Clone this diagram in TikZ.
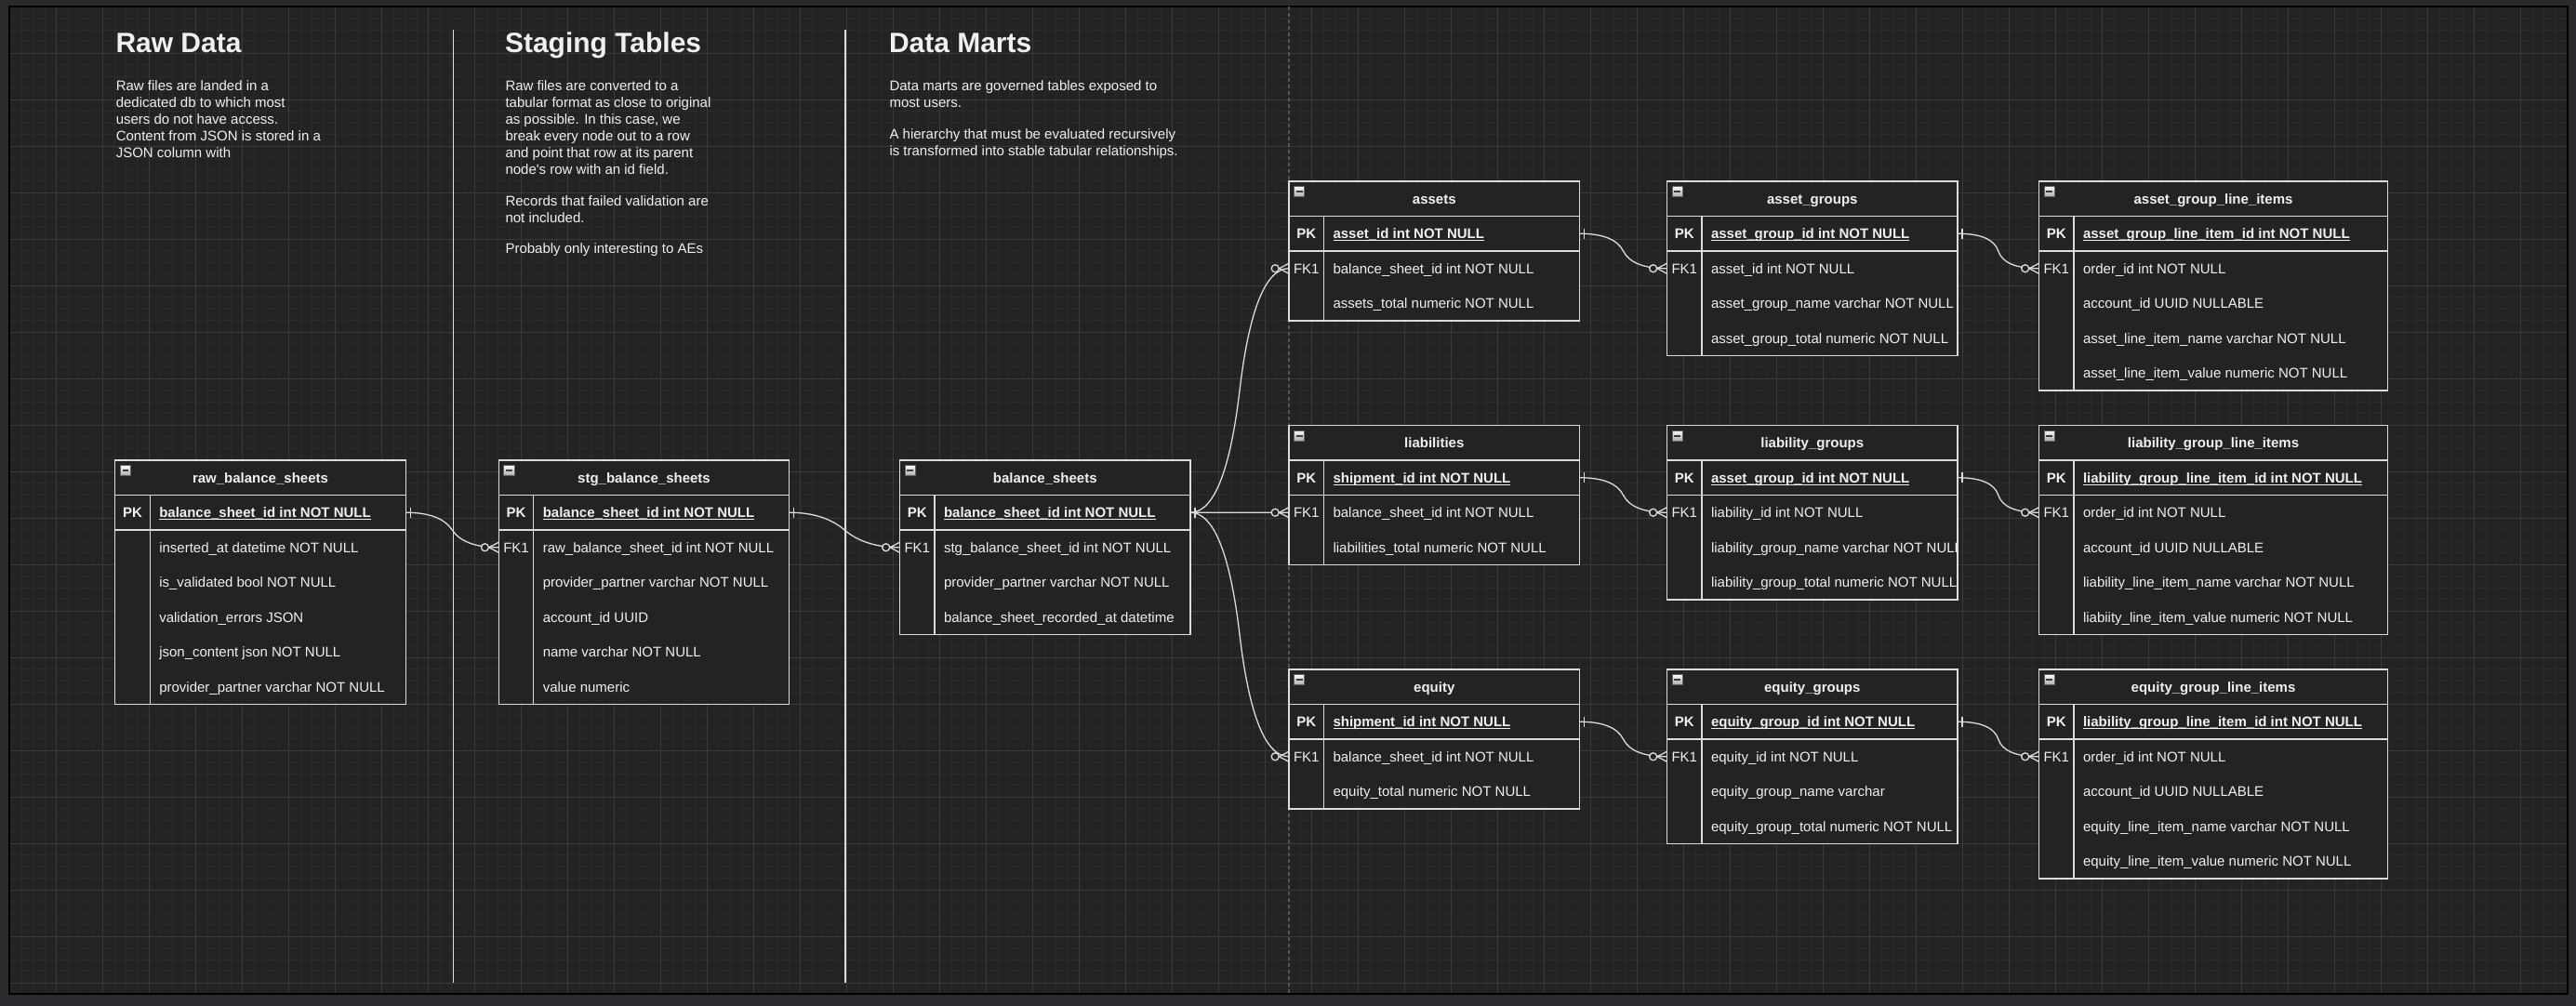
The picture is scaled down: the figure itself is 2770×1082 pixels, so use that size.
\documentclass[tikz,border=0pt]{standalone}
\usepackage{fontspec}
\setmainfont{Liberation Sans}
\usetikzlibrary{calc}
\definecolor{outer}{HTML}{2A2B2E}
\definecolor{bg}{HTML}{232323}
\definecolor{gminor}{HTML}{2B2B2B}
\definecolor{gmajor}{HTML}{3A3A3A}
\definecolor{lc}{HTML}{DCDCDC}
\definecolor{tc}{HTML}{F0F0F0}
\definecolor{pb}{HTML}{555555}
\definecolor{icfill}{HTML}{C8C8C8}
\definecolor{icdark}{HTML}{3C3C3C}

\newcommand{\tabfont}{\fontsize{7.5pt}{9pt}\selectfont}
\newcommand{\bodyfont}{\fontsize{7.5pt}{9pt}\selectfont}
\newcommand{\titlefont}{\fontsize{15pt}{18pt}\selectfont\bfseries}

\tikzset{
 cell/.style={draw=lc, fill=bg, line width=0.65pt, minimum height=18.75pt, inner sep=0pt, outer sep=0pt, anchor=north west},
 ttext/.style={text=tc, font=\tabfont, inner sep=0pt, outer sep=0pt},
 tline/.style={draw=lc, line width=0.65pt},
 conn/.style={draw=lc, line width=0.65pt},
 para/.style={text=tc, font=\bodyfont, inner sep=0pt, outer sep=0pt, anchor=base west},
 ttl/.style={text=tc, font=\titlefont, inner sep=0pt, outer sep=0pt, anchor=base west},
 icon/.style={draw=icdark!80, top color=white!90!icfill, bottom color=icfill!85!black, line width=0.4pt, minimum size=5.6pt, inner sep=0pt, outer sep=0pt, anchor=north west},
 minusbar/.style={draw=icdark, line width=0.9pt},
 sepline/.style={draw=lc, line width=0.75pt},
}

% paragraph: name, x, first baseline y, lines
\newcommand{\plines}[4]{%
 \foreach \ln [count=\i] in {#4} {%
  \node[para] (#1-\i) at (#2,#3+18*\i-18) {\ln};
 }
}

% name, x, y, width, title, pk field, fk label, rows
\newcommand{\ertable}[8]{%
 \node[cell, minimum width=#4*0.5pt] (#1-h) at (#2,#3) {};
 \node[cell, minimum width=#4*0.5pt] (#1-pk) at (#2,#3+37.5) {};
 \foreach \f [count=\i] in {#8} {%
   \node[cell, draw=none, minimum width=#4*0.5pt] (#1-r\i) at (#2,#3+37.5+37.5*\i) {};
   \xdef\ernrows{\i}%
 }
 \draw[tline] (#1-pk.south west) rectangle (#1-r\ernrows.south east);
 \draw[tline] ($(#1-pk.north west)+(37.5,0)$) -- ($(#1-r\ernrows.south west)+(37.5,0)$);
 \node[icon] (#1-ic) at (#2+5.6,#3+5.6) {};
 \draw[minusbar] ($(#1-ic.west)+(2.2,0)$) -- ($(#1-ic.east)+(-2.2,0)$);
 \node[ttext, font=\tabfont\bfseries, anchor=base] (#1-title) at (#2+#4/2,#3+24.2) {#5};
 \node[ttext, font=\tabfont\bfseries, anchor=base] (#1-pkl) at (#2+18.75,#3+61.7) {PK};
 \begin{scope}
  \clip (#2,#3) rectangle ++(#4,600);
  \node[ttext, font=\tabfont\bfseries, anchor=base west] (#1-pkt) at (#2+47.5,#3+61.7) {#6};
  \draw[tc, line width=0.5pt] ($(#1-pkt.base west)+(0,2.2)$) -- ($(#1-pkt.base east)+(0,2.2)$);
  \foreach \f [count=\i] in {#8} {%
   \node[ttext, anchor=base west] (#1-t\i) at (#2+47.5,#3+37.5+37.5*\i+24.2) {\f};
  }
 \end{scope}
 \def\erfk{#7}\ifx\erfk\empty\else
  \node[ttext, anchor=base] (#1-fk) at (#2+18.75,#3+99.2) {#7};
 \fi
}

% one-to-zero-or-many link: source row node, target row node
\newcommand{\erlink}[2]{%
 \coordinate (s) at (#1.east);
 \coordinate (t) at (#2.west);
 \coordinate (q1) at ($(s)+(37.5,0)$);
 \coordinate (q2) at ($(t)+(-37.5,0)$);
 \coordinate (m) at ($(q1)!0.5!(q2)$);
 \draw[conn] (s) .. controls ($(s)!2/3!(q1)$) and ($(m)!2/3!(q1)$) .. (m)
   .. controls ($(m)!2/3!(q2)$) and ($(t)!2/3!(q2)$) .. (t);
 \draw[conn] ($(s)+(5,-5.5)$) -- ($(s)+(5,5.5)$);
 \draw[conn] ($(t)+(-10.5,0)$) -- ($(t)+(0,-5.5)$) ($(t)+(-10.5,0)$) -- ($(t)+(0,5.5)$);
 \draw[conn, fill=bg] ($(t)+(-14.8,0)$) circle[radius=2pt];
}

\begin{document}
\begin{tikzpicture}[x=0.5pt,y=-0.5pt]
\useasboundingbox (0,0) rectangle (2770,1082);
\fill[outer] (0,0) rectangle (2770,1082);
\fill[bg] (10,7) rectangle (2761,1069);
\begin{scope}
 \clip (10,7) rectangle (2761,1069);
 \foreach \gx in {10.5,23,...,2761} \draw[gminor, line width=0.5pt] (\gx,7) -- (\gx,1069);
 \foreach \gy in {7.3,19.8,...,1069} \draw[gminor, line width=0.5pt] (10,\gy) -- (2761,\gy);
 \foreach \gx in {10.5,60.5,...,2761} \draw[gmajor, line width=0.5pt] (\gx,7) -- (\gx,1069);
 \foreach \gy in {7.3,57.3,...,1069} \draw[gmajor, line width=0.5pt] (10,\gy) -- (2761,\gy);
\end{scope}
\draw[black, line width=0.6pt] (10,7) rectangle (2761,1069);

% page break
\draw[pb, line width=0.6pt, dash pattern=on 2pt off 1.5pt] (1386,7) -- (1386,1069);

% section separators
\draw[sepline] (487.7,32.3) -- (487.7,1057.3);
\draw[sepline] (909,32.3) -- (909,1057.3);

% titles
\node[ttl] (t-raw) at (124.5,56) {Raw Data};
\node[ttl] (t-stg) at (543,56) {Staging Tables};
\node[ttl] (t-dm) at (956,56) {Data Marts};

% descriptions
\plines{p-raw}{124.8}{97.7}{Raw files are landed in a,dedicated db to which most,users do not have access.,Content from JSON is stored in a,JSON column with}
\plines{p-stg1}{543.5}{97.7}{Raw files are converted to a,tabular format as close to original,{as possible. In this case, we},break every node out to a row,and point that row at its parent,node\textquotesingle s row with an id field.}
\plines{p-stg2}{543.5}{221}{Records that failed validation are,not included.}
\plines{p-stg3}{543.5}{272.3}{Probably only interesting to AEs}
\plines{p-dm1}{956.5}{97.7}{Data marts are governed tables exposed to,most users.}
\plines{p-dm2}{956.5}{149}{A hierarchy that must be evaluated recursively,is transformed into stable tabular relationships.}

% tables
\ertable{raw}{123.75}{495}{312.5}{raw\_balance\_sheets}{balance\_sheet\_id int NOT NULL}{}%
 {inserted\_at datetime NOT NULL,is\_validated bool NOT NULL,validation\_errors JSON,json\_content json NOT NULL,provider\_partner varchar NOT NULL}
\ertable{stg}{536.25}{495}{312.5}{stg\_balance\_sheets}{balance\_sheet\_id int NOT NULL}{FK1}%
 {raw\_balance\_sheet\_id int NOT NULL,provider\_partner varchar NOT NULL,account\_id UUID,name varchar NOT NULL,value numeric}
\ertable{bs}{967.5}{495}{312.5}{balance\_sheets}{balance\_sheet\_id int NOT NULL}{FK1}%
 {stg\_balance\_sheet\_id int NOT NULL,provider\_partner varchar NOT NULL,balance\_sheet\_recorded\_at datetime}

\ertable{as}{1386}{195}{312.5}{assets}{asset\_id int NOT NULL}{FK1}%
 {balance\_sheet\_id int NOT NULL,assets\_total numeric NOT NULL}
\ertable{ag}{1792.5}{195}{312.5}{asset\_groups}{asset\_group\_id int NOT NULL}{FK1}%
 {asset\_id int NOT NULL,asset\_group\_name varchar NOT NULL,asset\_group\_total numeric NOT NULL}
\ertable{agl}{2192.5}{195}{375}{asset\_group\_line\_items}{asset\_group\_line\_item\_id int NOT NULL}{FK1}%
 {order\_id int NOT NULL,account\_id UUID NULLABLE,asset\_line\_item\_name varchar NOT NULL,asset\_line\_item\_value numeric NOT NULL}

\ertable{li}{1386}{457.5}{312.5}{liabilities}{shipment\_id int NOT NULL}{FK1}%
 {balance\_sheet\_id int NOT NULL,liabilities\_total numeric NOT NULL}
\ertable{lg}{1792.5}{457.5}{312.5}{liability\_groups}{asset\_group\_id int NOT NULL}{FK1}%
 {liability\_id int NOT NULL,liability\_group\_name varchar NOT NULL,liability\_group\_total numeric NOT NULL}
\ertable{lgl}{2192.5}{457.5}{375}{liability\_group\_line\_items}{liability\_group\_line\_item\_id int NOT NULL}{FK1}%
 {order\_id int NOT NULL,account\_id UUID NULLABLE,liability\_line\_item\_name varchar NOT NULL,liabiity\_line\_item\_value numeric NOT NULL}

\ertable{eq}{1386}{720}{312.5}{equity}{shipment\_id int NOT NULL}{FK1}%
 {balance\_sheet\_id int NOT NULL,equity\_total numeric NOT NULL}
\ertable{eg}{1792.5}{720}{312.5}{equity\_groups}{equity\_group\_id int NOT NULL}{FK1}%
 {equity\_id int NOT NULL,equity\_group\_name varchar,equity\_group\_total numeric NOT NULL}
\ertable{egl}{2192.5}{720}{375}{equity\_group\_line\_items}{liability\_group\_line\_item\_id int NOT NULL}{FK1}%
 {order\_id int NOT NULL,account\_id UUID NULLABLE,equity\_line\_item\_name varchar NOT NULL,equity\_line\_item\_value numeric NOT NULL}

% connectors
\erlink{raw-pk}{stg-r1}
\erlink{stg-pk}{bs-r1}
\erlink{bs-pk}{as-r1}
\erlink{bs-pk}{li-r1}
\erlink{bs-pk}{eq-r1}
\erlink{as-pk}{ag-r1}
\erlink{ag-pk}{agl-r1}
\erlink{li-pk}{lg-r1}
\erlink{lg-pk}{lgl-r1}
\erlink{eq-pk}{eg-r1}
\erlink{eg-pk}{egl-r1}
\end{tikzpicture}
\end{document}
